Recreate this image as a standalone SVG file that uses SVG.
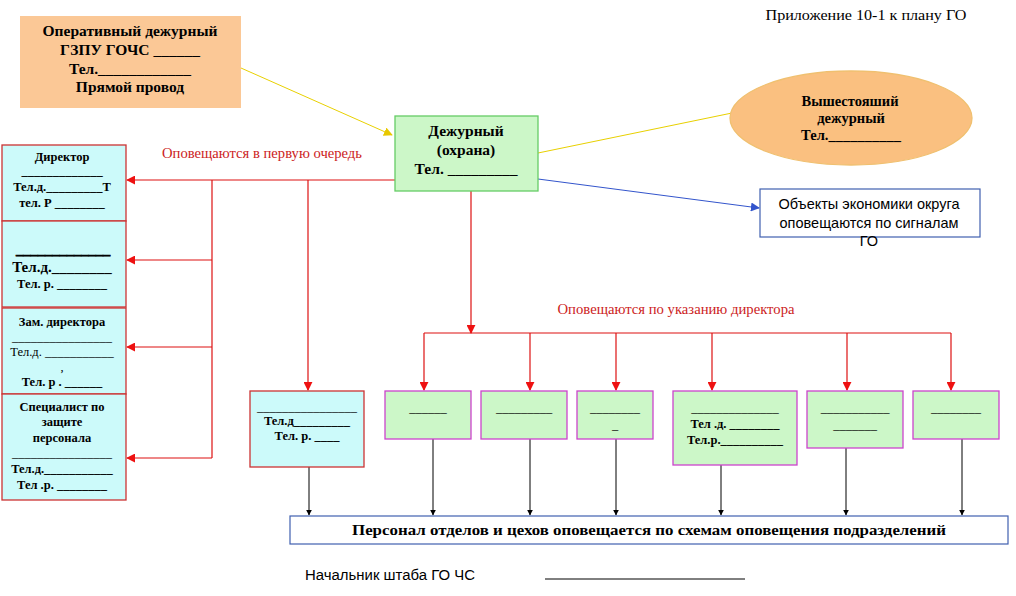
<svg xmlns="http://www.w3.org/2000/svg" width="1016" height="596" viewBox="0 0 1016 596">
<defs>
<style>
text{font-family:"Liberation Serif","Times New Roman",serif;fill:#000}
.b{font-weight:bold}
.c{text-anchor:middle}
.red{fill:#cc2222}
.sans{font-family:"Liberation Sans",Arial,sans-serif}
.cyan{fill:#ccfafa;stroke:#cc3333;stroke-width:1.3}
.grn{fill:#ccf7c8;stroke:#cc44cc;stroke-width:1.3}
.rl{stroke:#dd1111;stroke-width:1.2;fill:none}
.bl{stroke:#000;stroke-width:1;fill:none}
.s{font-size:12.5px}
</style>
<marker id="ar" viewBox="0 0 10 10" refX="9" refY="5" markerWidth="9" markerHeight="9" markerUnits="userSpaceOnUse" orient="auto"><path d="M0,0L10,5L0,10z" fill="#ee1111"/></marker>
<marker id="ak" viewBox="0 0 10 10" refX="9" refY="5" markerWidth="6" markerHeight="6" markerUnits="userSpaceOnUse" orient="auto"><path d="M0,0L10,5L0,10z" fill="#000"/></marker>
<marker id="ay" viewBox="0 0 10 10" refX="9" refY="5" markerWidth="9" markerHeight="9" markerUnits="userSpaceOnUse" orient="auto"><path d="M0,0L10,5L0,10z" fill="#e8c800"/></marker>
<marker id="ab" viewBox="0 0 10 10" refX="9" refY="5" markerWidth="9" markerHeight="9" markerUnits="userSpaceOnUse" orient="auto"><path d="M0,0L10,5L0,10z" fill="#3355cc"/></marker>
</defs>
<rect width="1016" height="596" fill="#fff"/>

<text x="866" y="20" font-size="15" class="c" textLength="201" lengthAdjust="spacingAndGlyphs">Приложение 10-1 к плану ГО</text>

<g id="connectors">
<line x1="241" y1="68" x2="392" y2="135" stroke="#e8d000" stroke-width="1" marker-end="url(#ay)"/>
<line x1="538" y1="153" x2="732" y2="113" stroke="#e8d000" stroke-width="1"/>
<line x1="538" y1="179" x2="759" y2="208" stroke="#3355cc" stroke-width="1" marker-end="url(#ab)"/>
<line x1="395" y1="180" x2="127" y2="180" class="rl" marker-end="url(#ar)"/>
<polyline points="212,180 212,458" class="rl"/>
<line x1="212" y1="260" x2="127" y2="260" class="rl" marker-end="url(#ar)"/>
<line x1="212" y1="347" x2="127" y2="347" class="rl" marker-end="url(#ar)"/>
<line x1="212" y1="458" x2="127" y2="458" class="rl" marker-end="url(#ar)"/>
<line x1="308" y1="180" x2="308" y2="390" class="rl" marker-end="url(#ar)"/>
<line x1="471" y1="191" x2="471" y2="333" class="rl" marker-end="url(#ar)"/>
<polyline points="424,333 951,333" class="rl"/>
<line x1="424" y1="333" x2="424" y2="390" class="rl" marker-end="url(#ar)"/>
<line x1="530" y1="333" x2="530" y2="390" class="rl" marker-end="url(#ar)"/>
<line x1="616" y1="333" x2="616" y2="390" class="rl" marker-end="url(#ar)"/>
<line x1="712" y1="333" x2="712" y2="390" class="rl" marker-end="url(#ar)"/>
<line x1="847" y1="333" x2="847" y2="390" class="rl" marker-end="url(#ar)"/>
<line x1="951" y1="333" x2="951" y2="390" class="rl" marker-end="url(#ar)"/>
<line x1="309" y1="467" x2="309" y2="515" class="bl" marker-end="url(#ak)"/>
<line x1="433" y1="439" x2="433" y2="515" class="bl" marker-end="url(#ak)"/>
<line x1="530" y1="439" x2="530" y2="515" class="bl" marker-end="url(#ak)"/>
<line x1="616" y1="439" x2="616" y2="515" class="bl" marker-end="url(#ak)"/>
<line x1="721" y1="465" x2="721" y2="515" class="bl" marker-end="url(#ak)"/>
<line x1="846" y1="448" x2="846" y2="515" class="bl" marker-end="url(#ak)"/>
<line x1="962" y1="439" x2="962" y2="515" class="bl" marker-end="url(#ak)"/>
<text x="262" y="158" font-size="14" class="c red" textLength="200" lengthAdjust="spacingAndGlyphs">Оповещаются в первую очередь</text>
<text x="676" y="314" font-size="14" class="c red" textLength="237" lengthAdjust="spacingAndGlyphs">Оповещаются по указанию директора</text>
</g>

<g id="gzpu">
<rect x="20" y="16" width="221" height="92" fill="#fbc896"/>
<text x="130" y="36" font-size="15.5" class="b c">Оперативный дежурный</text>
<text x="130" y="55" font-size="15.5" class="b c">ГЗПУ ГОЧС ______</text>
<text x="130" y="74" font-size="15.5" class="b c">Тел.____________</text>
<text x="130" y="92" font-size="15.5" class="b c">Прямой провод</text>
</g>

<g id="duty">
<rect x="395" y="116" width="143" height="75" fill="#ccf7c8" stroke="#66cc66" stroke-width="1.3"/>
<text x="466" y="136" font-size="15.5" class="b c">Дежурный</text>
<text x="466" y="155" font-size="15.5" class="b c">(охрана)</text>
<text x="466" y="174" font-size="15.5" class="b c">Тел. _________</text>
</g>

<g id="upper">
<ellipse cx="851" cy="118" rx="121" ry="47" fill="#fac080" stroke="#f0c070" stroke-width="1.3"/>
<text x="850" y="106" font-size="14.5" class="b c">Вышестояший</text>
<text x="851" y="123" font-size="14.5" class="b c">дежурный</text>
<text x="851" y="140" font-size="14.5" class="b c">Тел.__________</text>
</g>

<g id="objects">
<rect x="760" y="189" width="220" height="48" fill="#fff" stroke="#4060b0" stroke-width="1.2"/>
<text x="869" y="209" font-size="14.5" class="c sans">Объекты экономики округа</text>
<text x="869" y="228" font-size="14.5" class="c sans">оповещаются по сигналам</text>
<text x="869" y="246" font-size="14.5" class="c sans">ГО</text>
</g>

<g id="director">
<rect x="2" y="145" width="124" height="76" class="cyan"/>
<text x="62" y="161" class="s b c">Директор</text>
<text x="62" y="175" class="s b c">_____________</text>
<text x="62" y="191" class="s b c">Тел.д._________Т</text>
<text x="62" y="207" class="s b c">тел. Р ________</text>
</g>

<g id="person2">
<rect x="2" y="221" width="124" height="86" class="cyan"/>
<text x="63" y="254" font-size="14.5" class="b c" stroke="#000" stroke-width="0.6">_____________</text>
<text x="62" y="272" font-size="15" class="b c">Тел.д.________</text>
<text x="62" y="288" class="s b c">Тел. р. ________</text>
</g>

<g id="deputy">
<rect x="2" y="308" width="124" height="86" class="cyan"/>
<text x="62" y="326" class="s b c">Зам. директора</text>
<text x="62" y="341" class="s c">________________</text>
<text x="62" y="356" class="s c">Тел.д. ___________</text>
<text x="62" y="371" class="s c">,</text>
<text x="62" y="386" class="s b c">Тел. р . ______</text>
</g>

<g id="specialist">
<rect x="2" y="394" width="124" height="106" class="cyan"/>
<text x="62" y="411" class="s b c">Специалист по</text>
<text x="62" y="426" class="s b c">защите</text>
<text x="62" y="442" class="s b c">персонала</text>
<text x="62" y="457" class="s c">________________</text>
<text x="62" y="473" class="s b c">Тел.д.___________</text>
<text x="62" y="489" class="s b c">Тел .р. ________</text>
</g>

<g id="box-c">
<rect x="250" y="391" width="114" height="76" class="cyan"/>
<text x="307" y="411" class="s c">________________</text>
<text x="307" y="425" class="s b c">Тел.д_________</text>
<text x="307" y="440" class="s b c">Тел. р. ____</text>
</g>

<g id="g1">
<rect x="385" y="391" width="86" height="48" class="grn"/>
<text x="428" y="412" class="s c">______</text>
</g>
<g id="g2">
<rect x="481" y="391" width="86" height="48" class="grn"/>
<text x="524" y="412" class="s c">_________</text>
</g>
<g id="g3">
<rect x="577" y="391" width="76" height="48" class="grn"/>
<text x="615" y="412" class="s c">________</text>
<text x="615" y="429" class="s c">_</text>
</g>
<g id="g4">
<rect x="673" y="391" width="124" height="74" class="grn"/>
<text x="735" y="412" class="s c">______________</text>
<text x="735" y="428" class="s b c">Тел .д. ________</text>
<text x="735" y="444" class="s b c">Тел.р.__________</text>
</g>
<g id="g5">
<rect x="807" y="391" width="96" height="57" class="grn"/>
<text x="855" y="412" class="s c">___________</text>
<text x="855" y="429" class="s c">_______</text>
</g>
<g id="g6">
<rect x="913" y="391" width="86" height="48" class="grn"/>
<text x="956" y="412" class="s c">________</text>
</g>

<g id="personnel">
<rect x="290" y="516" width="718" height="28" fill="#fff" stroke="#4060b0" stroke-width="1.2"/>
<text x="649" y="535" font-size="14" class="b c" textLength="594" lengthAdjust="spacingAndGlyphs">Персонал отделов и цехов  оповещается по схемам оповещения подразделений</text>
</g>

<text x="305" y="580" font-size="14" class="sans" textLength="170" lengthAdjust="spacingAndGlyphs">Начальник штаба ГО ЧС</text>
<line x1="545" y1="579" x2="745" y2="579" stroke="#000" stroke-width="1"/>
</svg>
